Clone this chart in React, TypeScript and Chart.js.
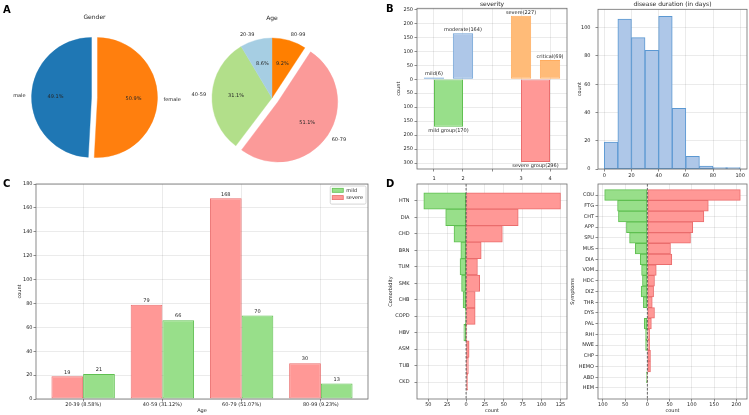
import React, { useEffect, useRef } from 'react';
import { Chart, registerables } from 'chart.js';

Chart.register(...registerables);

const W = 749;
const H = 415;
const FF = '"DejaVu Sans", "Liberation Sans", sans-serif';
const INK = '#262626';
const GRID = 'rgba(0,0,0,0.10)';
const SPINE = '#6e6e6e';

// ---------------- data ----------------
const genderLabels = ['male', 'female'];
const genderCounts = [229, 237];

const ageGroups = ['20-39', '40-59', '60-79', '80-99'];
const ageCounts = [40, 145, 238, 43];

const severityLevels = ['mild', 'moderate', 'severe', 'critical'];
const severityCounts = [6, 164, 227, 69];
const severityPos = [1, 2, 4, 5];
const severityGroups = ['mild group', 'severe group'];
const severityGroupCounts = [170, 296];
const severityGroupPos = [1.5, 4.5];
const severityTickPos = [1, 2, 3, 4, 5];
const severityTickLabels = ['1', '2', '', '3', '4'];

const durationBinCenters = [5, 15, 25, 35, 45, 55, 65, 75, 85, 95];
const durationCounts = [19, 106, 93, 84, 108, 43, 9, 2, 1, 1];

const ageTickLabels = ['20-39 (8.58%)', '40-59 (31.12%)', '60-79 (51.07%)', '80-99 (9.23%)'];
const ageSevere = [19, 79, 168, 30];
const ageMild = [21, 66, 70, 13];

const comorbidities = ['HTN', 'DIA', 'CHD', 'BRN', 'TUM', 'SMK', 'CHB', 'COPD', 'HBV', 'ASM', 'TUB', 'CKD'];
const comorbMild = [56, 27, 16, 7, 8, 6, 4, 1, 3, 0, 0, 0];
const comorbSevere = [125, 69, 48, 20, 15, 18, 12, 12, 1, 4, 3, 2];

const symptoms = ['COU', 'FTG', 'CHT', 'APP', 'SPU', 'MUS', 'DIA', 'VOM', 'HDC', 'DIZ', 'THR', 'DYS', 'PAL', 'RHI', 'NWE', 'CHP', 'HEMO', 'ABD', 'HEM'];
const symptomMild = [96, 67, 65, 47, 40, 27, 16, 13, 11, 14, 9, 0, 7, 4, 4, 0, 0, 2, 0];
const symptomSevere = [209, 137, 127, 102, 97, 52, 55, 20, 16, 14, 11, 16, 9, 5, 5, 7, 7, 1, 0];

// ---------------- colours ----------------
const COL = {
  male: '#1f77b4',
  female: '#ff7f0e',
  paired: ['#a6cee3', '#b2df8a', '#fb9a99', '#ff7f00'],
  lblue: '#aec7e8',
  lblueEdge: '#6ea2d6',
  lorange: '#ffbb78',
  lorangeEdge: '#ffac5e',
  green: '#98df8a',
  greenEdge: '#5fbf50',
  red: '#ff9896',
  redEdge: '#ea6d6d',
};

Chart.defaults.font.family = FF;
Chart.defaults.color = INK;

function text(ctx: any, s: string, x: number, y: number, o: any = {}) {
  ctx.save();
  ctx.translate(x, y);
  if (o.rot) ctx.rotate(o.rot);
  ctx.font = `${o.weight || 'normal'} ${o.size || 5}px ${FF}`;
  ctx.fillStyle = o.color || INK;
  ctx.textAlign = o.align || 'center';
  ctx.textBaseline = o.baseline || 'middle';
  ctx.fillText(s, 0, 0);
  ctx.restore();
}

type Area = { x0: number; y0: number; x1: number; y1: number };

function axis(extra: any, pad: number) {
  const { ticks, ...rest } = extra;
  return {
    offset: false,
    border: { display: false },
    grid: { color: GRID, lineWidth: 0.8, offset: false, drawTicks: true, tickLength: 2.5, tickColor: SPINE, tickWidth: 0.8 },
    ...rest,
    ticks: {
      padding: pad,
      color: INK,
      font: { size: 5, family: FF },
      autoSkip: false,
      maxRotation: 0,
      minRotation: 0,
      includeBounds: false,
      ...(ticks || {}),
    },
  };
}

function deco(o: any) {
  return {
    id: 'deco',
    afterDatasetsDraw(chart: any) {
      const { ctx, chartArea: a } = chart;
      if (o.zeroLine) {
        const x = chart.scales.x.getPixelForValue(0);
        ctx.save();
        ctx.strokeStyle = '#444';
        ctx.lineWidth = 0.8;
        ctx.setLineDash([2.5, 1.5]);
        ctx.beginPath();
        ctx.moveTo(x, a.top);
        ctx.lineTo(x, a.bottom);
        ctx.stroke();
        ctx.restore();
      }
      if (o.extra) o.extra(chart);
      ctx.save();
      ctx.strokeStyle = SPINE;
      ctx.lineWidth = 0.8;
      ctx.strokeRect(a.left, a.top, a.right - a.left, a.bottom - a.top);
      ctx.restore();
      const cx = (a.left + a.right) / 2;
      const cy = (a.top + a.bottom) / 2;
      if (o.title) text(ctx, o.title, cx, o.titleY, { size: 6 });
      if (o.xTitle) text(ctx, o.xTitle, cx, o.xTitleY, {});
      if (o.yTitle) text(ctx, o.yTitle, o.yTitleX, cy, { rot: -Math.PI / 2 });
    },
  };
}

function cartesian(area: Area, datasets: any[], x: any, y: any, plugin: any, indexAxis = 'x') {
  return {
    type: 'bar',
    data: { datasets },
    options: {
      animation: false,
      responsive: false,
      indexAxis,
      layout: { padding: { top: area.y0, right: W - area.x1, bottom: 0, left: 0 } },
      plugins: { legend: { display: false }, tooltip: { enabled: false }, title: { display: false } },
      scales: {
        x: {
          ...x,
          position: 'bottom',
          afterFit: (s: any) => {
            s.height = H - area.y1;
            s.paddingLeft = 0;
            s.paddingRight = 0;
          },
        },
        y: {
          ...y,
          position: 'left',
          afterFit: (s: any) => {
            s.width = area.x0;
            s.paddingTop = 0;
            s.paddingBottom = 0;
          },
        },
      },
    },
    plugins: [plugin],
  };
}

// ---------------- pies ----------------
// Slices are "exploded" like matplotlib: shifted along their bisector, radius unchanged.
function piePlugin(title: string, titleY: number) {
  return {
    id: 'piePlugin',
    beforeDatasetDraw(chart: any, args: any) {
      const ctx = chart.ctx;
      const ds = chart.data.datasets[args.index];
      args.meta.data.forEach((arc: any, i: number) => {
        const mid = (arc.startAngle + arc.endAngle) / 2;
        const s = (ds.explode && ds.explode[i]) || 0;
        ctx.save();
        ctx.translate(Math.cos(mid) * s, Math.sin(mid) * s);
        arc.draw(ctx, chart.chartArea);
        ctx.restore();
      });
      return false;
    },
    afterDatasetsDraw(chart: any) {
      const ctx = chart.ctx;
      const ds = chart.data.datasets[0];
      const meta = chart.getDatasetMeta(0);
      const total = ds.data.reduce((s: number, v: number) => s + v, 0);
      let cx0 = 0;
      meta.data.forEach((arc: any, i: number) => {
        const p = arc.getProps(['x', 'y', 'startAngle', 'endAngle', 'outerRadius'], true);
        cx0 = p.x;
        const mid = (p.startAngle + p.endAngle) / 2;
        const off = (ds.explode && ds.explode[i]) || 0;
        const cx = p.x + Math.cos(mid) * off;
        const cy = p.y + Math.sin(mid) * off;
        const r = p.outerRadius;
        const pct = ((ds.data[i] / total) * 100).toFixed(1) + '%';
        text(ctx, pct, cx + Math.cos(mid) * r * 0.6, cy + Math.sin(mid) * r * 0.6, { size: 5 });
        text(ctx, chart.data.labels[i], cx + Math.cos(mid) * r * 1.1, cy + Math.sin(mid) * r * 1.1, {
          size: 5,
          align: Math.cos(mid) > 0 ? 'left' : 'right',
        });
      });
      text(ctx, title, cx0, titleY, { size: 6 });
    },
  };
}

function pieCfg(labels: string[], values: number[], colors: string[], shifts: number[], cx: number, cy: number, title: string) {
  const r = 60;
  return {
    type: 'pie',
    data: {
      labels,
      datasets: [
        {
          data: values,
          backgroundColor: colors,
          borderColor: colors,
          borderWidth: 0.4,
          offset: 0,
          explode: shifts,
          radius: r,
        },
      ],
    },
    options: {
      animation: false,
      responsive: false,
      layout: { padding: { left: cx - 70, right: W - cx - 70, top: cy - 70, bottom: H - cy - 70 } },
      plugins: { legend: { display: false }, tooltip: { enabled: false } },
    },
    plugins: [piePlugin(title, cy - 80)],
  };
}

function genderCfg() {
  const order = [1, 0]; // clockwise from top: female, then male
  return pieCfg(
    order.map((i) => genderLabels[i]),
    order.map((i) => genderCounts[i]),
    [COL.female, COL.male],
    [3, 3],
    94.5,
    97.5,
    'Gender'
  );
}

function ageCfg() {
  const order = [3, 2, 1, 0];
  const shifts = [0, 0, 7, 0];
  return pieCfg(
    order.map((i) => ageGroups[i]),
    order.map((i) => ageCounts[i]),
    order.map((i) => COL.paired[i]),
    order.map((i) => shifts[i]),
    272,
    98,
    'Age'
  );
}

// ---------------- severity ----------------
function severityCfg() {
  const area = { x0: 417, y0: 8.3, x1: 567, y1: 169 };
  const common = { grouped: false, categoryPercentage: 1, borderWidth: 1, borderSkipped: false };
  const datasets = [
    {
      ...common,
      names: severityLevels.slice(0, 2),
      data: severityPos.slice(0, 2).map((x, i) => ({ x, y: severityCounts[i] })),
      barPercentage: 1.4,
      backgroundColor: COL.lblue,
      borderColor: COL.lblueEdge,
    },
    {
      ...common,
      names: severityLevels.slice(2),
      data: severityPos.slice(2).map((x, i) => ({ x, y: severityCounts[i + 2] })),
      barPercentage: 1.4,
      backgroundColor: COL.lorange,
      borderColor: COL.lorangeEdge,
    },
    {
      ...common,
      names: [severityGroups[0]],
      data: [{ x: severityGroupPos[0], y: -severityGroupCounts[0] }],
      barPercentage: 2,
      backgroundColor: COL.green,
      borderColor: COL.greenEdge,
    },
    {
      ...common,
      names: [severityGroups[1]],
      data: [{ x: severityGroupPos[1], y: -severityGroupCounts[1] }],
      barPercentage: 2,
      backgroundColor: COL.red,
      borderColor: COL.redEdge,
    },
  ];
  const extra = (chart: any) => {
    const ctx = chart.ctx;
    chart.data.datasets.forEach((ds: any, di: number) => {
      chart.getDatasetMeta(di).data.forEach((el: any, i: number) => {
        const v = ds.data[i].y;
        const s = `${ds.names[i]}(${Math.abs(v)})`;
        if (v >= 0) text(ctx, s, el.x, el.y - 1, { baseline: 'bottom' });
        else text(ctx, s, el.x, el.y + 1, { baseline: 'top' });
      });
    });
  };
  return cartesian(
    area,
    datasets,
    axis(
      {
        type: 'linear',
        min: 0.415,
        max: 5.585,
        afterBuildTicks: (s: any) => {
          s.ticks = severityTickPos.map((v) => ({ value: v }));
        },
        ticks: { callback: (_v: any, i: number) => severityTickLabels[i] },
      },
      4
    ),
    axis({ type: 'linear', min: -321, max: 253.5, ticks: { stepSize: 50, callback: (v: any) => Math.abs(v) } }, 1.5),
    deco({ title: 'severity', titleY: 4, yTitle: 'count', yTitleX: 399, extra })
  );
}

// ---------------- duration histogram ----------------
function durationCfg() {
  const area = { x0: 598, y0: 9.3, x1: 747, y1: 169 };
  const datasets = [
    {
      data: durationBinCenters.map((x, i) => ({ x, y: durationCounts[i] })),
      backgroundColor: COL.lblue,
      borderColor: '#5b98d2',
      borderWidth: 1,
      borderSkipped: false,
      grouped: false,
      categoryPercentage: 1,
      barPercentage: 1,
    },
  ];
  return cartesian(
    area,
    datasets,
    axis({ type: 'linear', min: -4.6, max: 105, ticks: { stepSize: 20 } }, 1),
    axis({ type: 'linear', min: 0, max: 113, ticks: { stepSize: 20 } }, 5),
    deco({ title: 'disease duration (in days)', titleY: 4, yTitle: 'count', yTitleX: 580 })
  );
}

// ---------------- C: age by group ----------------
function ageBarCfg() {
  const area = { x0: 36, y0: 184, x1: 368, y1: 399 };
  const common = { borderWidth: 1, borderSkipped: false, categoryPercentage: 0.8, barPercentage: 1 };
  const datasets = [
    { ...common, label: 'severe', data: ageSevere.map((y, x) => ({ x, y })), backgroundColor: COL.red, borderColor: COL.redEdge },
    { ...common, label: 'mild', data: ageMild.map((y, x) => ({ x, y })), backgroundColor: COL.green, borderColor: COL.greenEdge },
  ];
  const extra = (chart: any) => {
    const ctx = chart.ctx;
    const a = chart.chartArea;
    chart.data.datasets.forEach((ds: any, di: number) => {
      chart.getDatasetMeta(di).data.forEach((el: any, i: number) => {
        text(ctx, String(ds.data[i].y), el.x, el.y - 1.5, { baseline: 'bottom' });
      });
    });
    // legend (mild first, as in the reference)
    const items = [...chart.data.datasets].reverse();
    ctx.save();
    ctx.font = `5px ${FF}`;
    const tw = Math.max(...items.map((d: any) => ctx.measureText(d.label).width));
    const bw = 2 + 11 + 3 + tw + 3;
    const bh = 4.5 + items.length * 7.3 - 1;
    const bx = a.right - 2 - bw;
    const by = a.top + 2;
    ctx.fillStyle = 'rgba(255,255,255,0.85)';
    ctx.strokeStyle = '#cccccc';
    ctx.lineWidth = 0.8;
    ctx.beginPath();
    ctx.roundRect(bx, by, bw, bh, 1.5);
    ctx.fill();
    ctx.stroke();
    items.forEach((d: any, k: number) => {
      const yy = by + 2.3 + k * 7.3;
      ctx.fillStyle = d.backgroundColor;
      ctx.fillRect(bx + 2, yy, 11, 4);
      ctx.strokeStyle = d.borderColor;
      ctx.lineWidth = 0.8;
      ctx.strokeRect(bx + 2, yy, 11, 4);
    });
    ctx.restore();
    items.forEach((d: any, k: number) => {
      text(ctx, d.label, bx + 16, by + 4.3 + k * 7.3, { align: 'left' });
    });
  };
  return cartesian(
    area,
    datasets,
    axis(
      {
        type: 'linear',
        min: -0.595,
        max: 3.595,
        afterBuildTicks: (s: any) => {
          s.ticks = ageTickLabels.map((_l, i) => ({ value: i }));
        },
        ticks: { callback: (_v: any, i: number) => ageTickLabels[i] },
      },
      0.5
    ),
    axis({ type: 'linear', min: 0, max: 180, ticks: { stepSize: 20 } }, 1),
    deco({ xTitle: 'Age', xTitleY: 411, yTitle: 'count', yTitleX: 20, extra })
  );
}

// ---------------- D: butterfly charts ----------------
function butterflyCfg(area: Area, cats: string[], mild: number[], severe: number[], xmin: number, xmax: number, step: number, yTitle: string, yTitleX: number, yPad: number) {
  const common = {
    grouped: false,
    categoryPercentage: 1,
    barPercentage: 1,
    borderWidth: 1,
    borderSkipped: false,
  };
  const datasets = [
    { ...common, label: 'mild', data: mild.map((v, i) => ({ x: -v, y: i })), backgroundColor: COL.green, borderColor: COL.greenEdge },
    { ...common, label: 'severe', data: severe.map((v, i) => ({ x: v, y: i })), backgroundColor: COL.red, borderColor: COL.redEdge },
  ];
  return cartesian(
    area,
    datasets,
    axis({ type: 'linear', min: xmin, max: xmax, ticks: { stepSize: step, callback: (v: any) => Math.abs(v) } }, 0.5),
    axis(
      {
        type: 'linear',
        reverse: true,
        min: -1.03,
        max: cats.length - 1 + 1.03,
        afterBuildTicks: (s: any) => {
          s.ticks = cats.map((_c, i) => ({ value: i }));
        },
        ticks: { callback: (_v: any, i: number) => cats[i] },
      },
      yPad
    ),
    deco({ xTitle: 'count', xTitleY: 411, yTitle, yTitleX, zeroLine: true }),
    'y'
  );
}

function comorbCfg() {
  return butterflyCfg({ x0: 417, y0: 184, x1: 567, y1: 399 }, comorbidities, comorbMild, comorbSevere, -65, 133.6, 25, 'Comorbidity', 391, 5);
}

function symptomCfg() {
  return butterflyCfg({ x0: 598, y0: 184, x1: 747, y1: 399 }, symptoms, symptomMild, symptomSevere, -111, 224, 50, 'Symptoms', 573, 1.5);
}

const panelLetters: [string, number, number][] = [
  ['A', 3, 9.5],
  ['B', 386, 9],
  ['C', 3, 184],
  ['D', 386, 184],
];

export default function App() {
  const refs = useRef<(HTMLCanvasElement | null)[]>([]);
  const builders = [genderCfg, ageCfg, severityCfg, durationCfg, ageBarCfg, comorbCfg, symptomCfg];

  useEffect(() => {
    const charts = builders.map((b, i) => new Chart(refs.current[i] as HTMLCanvasElement, b() as any));
    return () => charts.forEach((c) => c.destroy());
  }, []);

  return (
    <div style={{ position: 'fixed', left: 0, top: 0, width: W, height: H, background: '#ffffff', overflow: 'hidden' }}>
      {builders.map((_b, i) => (
        <canvas
          key={i}
          ref={(el) => {
            refs.current[i] = el;
          }}
          width={W}
          height={H}
          style={{ position: 'absolute', left: 0, top: 0, width: W, height: H }}
        />
      ))}
      {panelLetters.map(([l, x, y]) => (
        <div
          key={l}
          style={{
            position: 'absolute',
            left: x,
            top: y - 6,
            font: `bold 10px ${FF}`,
            lineHeight: '12px',
            color: '#000',
          }}
        >
          {l}
        </div>
      ))}
    </div>
  );
}
